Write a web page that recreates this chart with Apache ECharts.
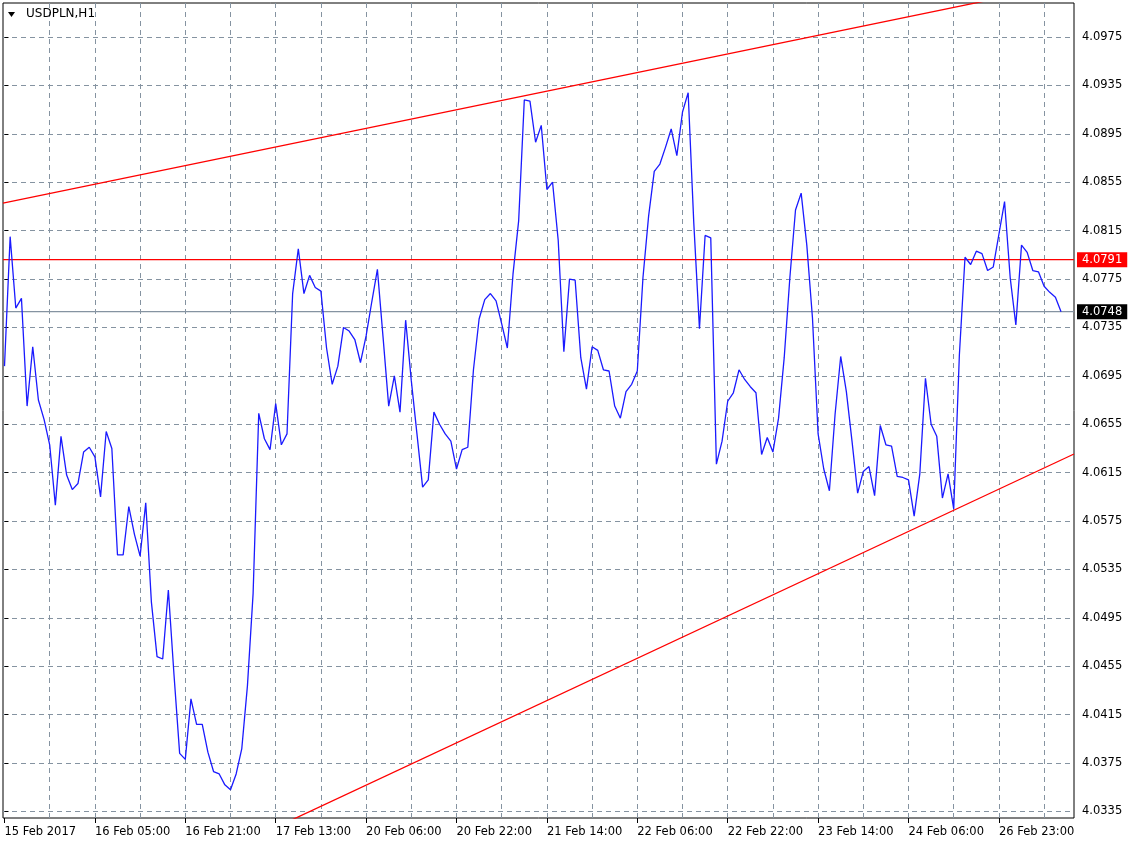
<!DOCTYPE html>
<html><head><meta charset="utf-8">
<script src="https://cdn.jsdelivr.net/npm/echarts@6/dist/echarts.min.js"></script>
<style>html,body{margin:0;padding:0;background:#fff}#c{width:1130px;height:848px}</style>
</head><body><div id="c"></div>
<script>
// hourly closes USDPLN H1, bar index 0..187
const closes = [
4.0703,4.0810,4.0751,4.0759,4.0670,4.0719,4.0675,4.0659,4.0638,4.0588,
4.0645,4.0613,4.0601,4.0606,4.0632,4.0636,4.0628,4.0595,4.0649,4.0635,
4.0547,4.0547,4.0587,4.0564,4.0546,4.0590,4.0508,4.0463,4.0461,4.0518,
4.0448,4.0383,4.0378,4.0428,4.0407,4.0407,4.0384,4.0368,4.0366,4.0357,
4.0353,4.0366,4.0387,4.0439,4.0515,4.0664,4.0643,4.0634,4.0672,4.0638,
4.0647,4.0763,4.0800,4.0763,4.0778,4.0768,4.0765,4.0718,4.0688,4.0703,
4.0735,4.0732,4.0725,4.0706,4.0728,4.0756,4.0783,4.0727,4.0670,4.0695,
4.0665,4.0741,4.0691,4.0647,4.0603,4.0609,4.0665,4.0655,4.0647,4.0641,
4.0618,4.0634,4.0636,4.0700,4.0742,4.0758,4.0763,4.0757,4.0738,4.0718,
4.0779,4.0823,4.0923,4.0922,4.0888,4.0902,4.0849,4.0855,4.0807,4.0715,
4.0775,4.0774,4.0710,4.0684,4.0719,4.0716,4.0700,4.0699,4.0670,4.0660,
4.0682,4.0688,4.0699,4.0776,4.0827,4.0864,4.0870,4.0884,4.0899,4.0877,
4.0913,4.0929,4.0821,4.0734,4.0811,4.0809,4.0622,4.0641,4.0674,4.0681,
4.0700,4.0692,4.0686,4.0681,4.0630,4.0644,4.0632,4.0660,4.0710,4.0776,
4.0832,4.0846,4.0803,4.0743,4.0647,4.0618,4.0600,4.0663,4.0711,4.0682,
4.0641,4.0598,4.0616,4.0620,4.0596,4.0654,4.0638,4.0637,4.0612,4.0611,
4.0609,4.0579,4.0614,4.0693,4.0655,4.0645,4.0594,4.0614,4.0585,4.0712,
4.0793,4.0787,4.0798,4.0796,4.0782,4.0785,4.0812,4.0839,4.0776,4.0737,
4.0803,4.0797,4.0782,4.0781,4.0769,4.0764,4.0760,4.0748
];
const timeLabels = ['15 Feb 2017','16 Feb 05:00','16 Feb 21:00','17 Feb 13:00','20 Feb 06:00','20 Feb 22:00','21 Feb 14:00','22 Feb 06:00','22 Feb 22:00','23 Feb 14:00','24 Feb 06:00','26 Feb 23:00'];
const labelBars = [0,16,32,48,64,80,96,112,128,144,160,176];
const gridBars = [8,16,24,32,40,48,56,64,72,80,88,96,104,112,120,128,136,144,152,160,168,176,184];
const priceTicks = [4.0335,4.0375,4.0415,4.0455,4.0495,4.0535,4.0575,4.0615,4.0655,4.0695,4.0735,4.0775,4.0815,4.0855,4.0895,4.0935,4.0975];
const resistanceLevel = 4.0791;
const bidLevel = 4.0748;
const upperTrend = [[-0.27,4.08378],[189.29,4.10199]];
const lowerTrend = [[48,4.03218],[189.29,4.06304]];
const symbolTitle = 'USDPLN,H1';

const X_MIN = -0.265, X_MAX = 189.29, Y_MIN = 4.03296, Y_MAX = 4.10031;
const FONT = 'DejaVu Sans';
const gridStyle = {color:'#8593a1', width:1, type:[5,4]};

function levelSeries(name, level, lineColor, tagColor, z){
  return {type:'line', name:name, data:[[X_MIN, level],[X_MAX, level]], symbol:'none', z:z, clip:false,
    lineStyle:{color:lineColor, width:1.3},
    endLabel:{show:true, distance:3, formatter:()=>level.toFixed(4), color:'#fff', backgroundColor:tagColor,
      padding:[2,5,1,5], fontFamily:FONT, fontSize:11.5}};
}

const chart = echarts.init(document.getElementById('c'), null, {renderer:'canvas'});
chart.setOption({
  animation:false,
  backgroundColor:'#ffffff',
  grid:{left:3, top:3, right:56, bottom:30, show:true, borderColor:'#000', borderWidth:1, backgroundColor:'#fff'},
  xAxis:[
    {type:'value', min:X_MIN, max:X_MAX, position:'bottom',
     axisLine:{show:false},
     axisTick:{show:true, customValues:labelBars, length:5, lineStyle:{color:'#000', width:1}},
     axisLabel:{customValues:labelBars, formatter:v=>timeLabels[labelBars.indexOf(Math.round(v))]||'',
       align:'left', margin:8, color:'#000', fontFamily:FONT, fontSize:11.5},
     splitLine:{show:false}},
    {type:'value', min:X_MIN, max:X_MAX, position:'top',
     axisLine:{show:false},
     axisTick:{show:false, customValues:gridBars},
     axisLabel:{show:false},
     splitLine:{show:true, lineStyle:gridStyle}}
  ],
  yAxis:[
    {type:'value', min:Y_MIN, max:Y_MAX, position:'right',
     axisLine:{show:false},
     axisTick:{show:true, customValues:priceTicks, length:4, lineStyle:{color:'#000'}},
     axisLabel:{customValues:priceTicks, formatter:v=>v.toFixed(4), margin:8, color:'#000', fontFamily:FONT, fontSize:11.5},
     splitLine:{show:true, lineStyle:gridStyle}}
  ],
  series:[
    levelSeries('bid', bidLevel, '#8593a1', '#000000', 2),
    levelSeries('resistance', resistanceLevel, '#ff0000', '#ff0000', 3),
    {type:'line', name:'upper', data:upperTrend, symbol:'none', clip:true, z:3,
     lineStyle:{color:'#ff0000', width:1.3}},
    {type:'line', name:'lower', data:lowerTrend, symbol:'none', clip:true, z:3,
     lineStyle:{color:'#ff0000', width:1.3}},
    {type:'line', name:'USDPLN', data:closes.map((v,i)=>[i,v]), symbol:'none', clip:true, z:4,
     lineStyle:{color:'#1a1aff', width:1.3}}
  ],
  graphic:[
    {type:'polygon', shape:{points:[[8,12],[15,12],[11.5,17]]}, style:{fill:'#000'}, z:10},
    {type:'text', left:26, top:8, style:{text:symbolTitle, fill:'#000', font:'12px "DejaVu Sans"'}, z:10}
  ]
});
</script></body></html>
